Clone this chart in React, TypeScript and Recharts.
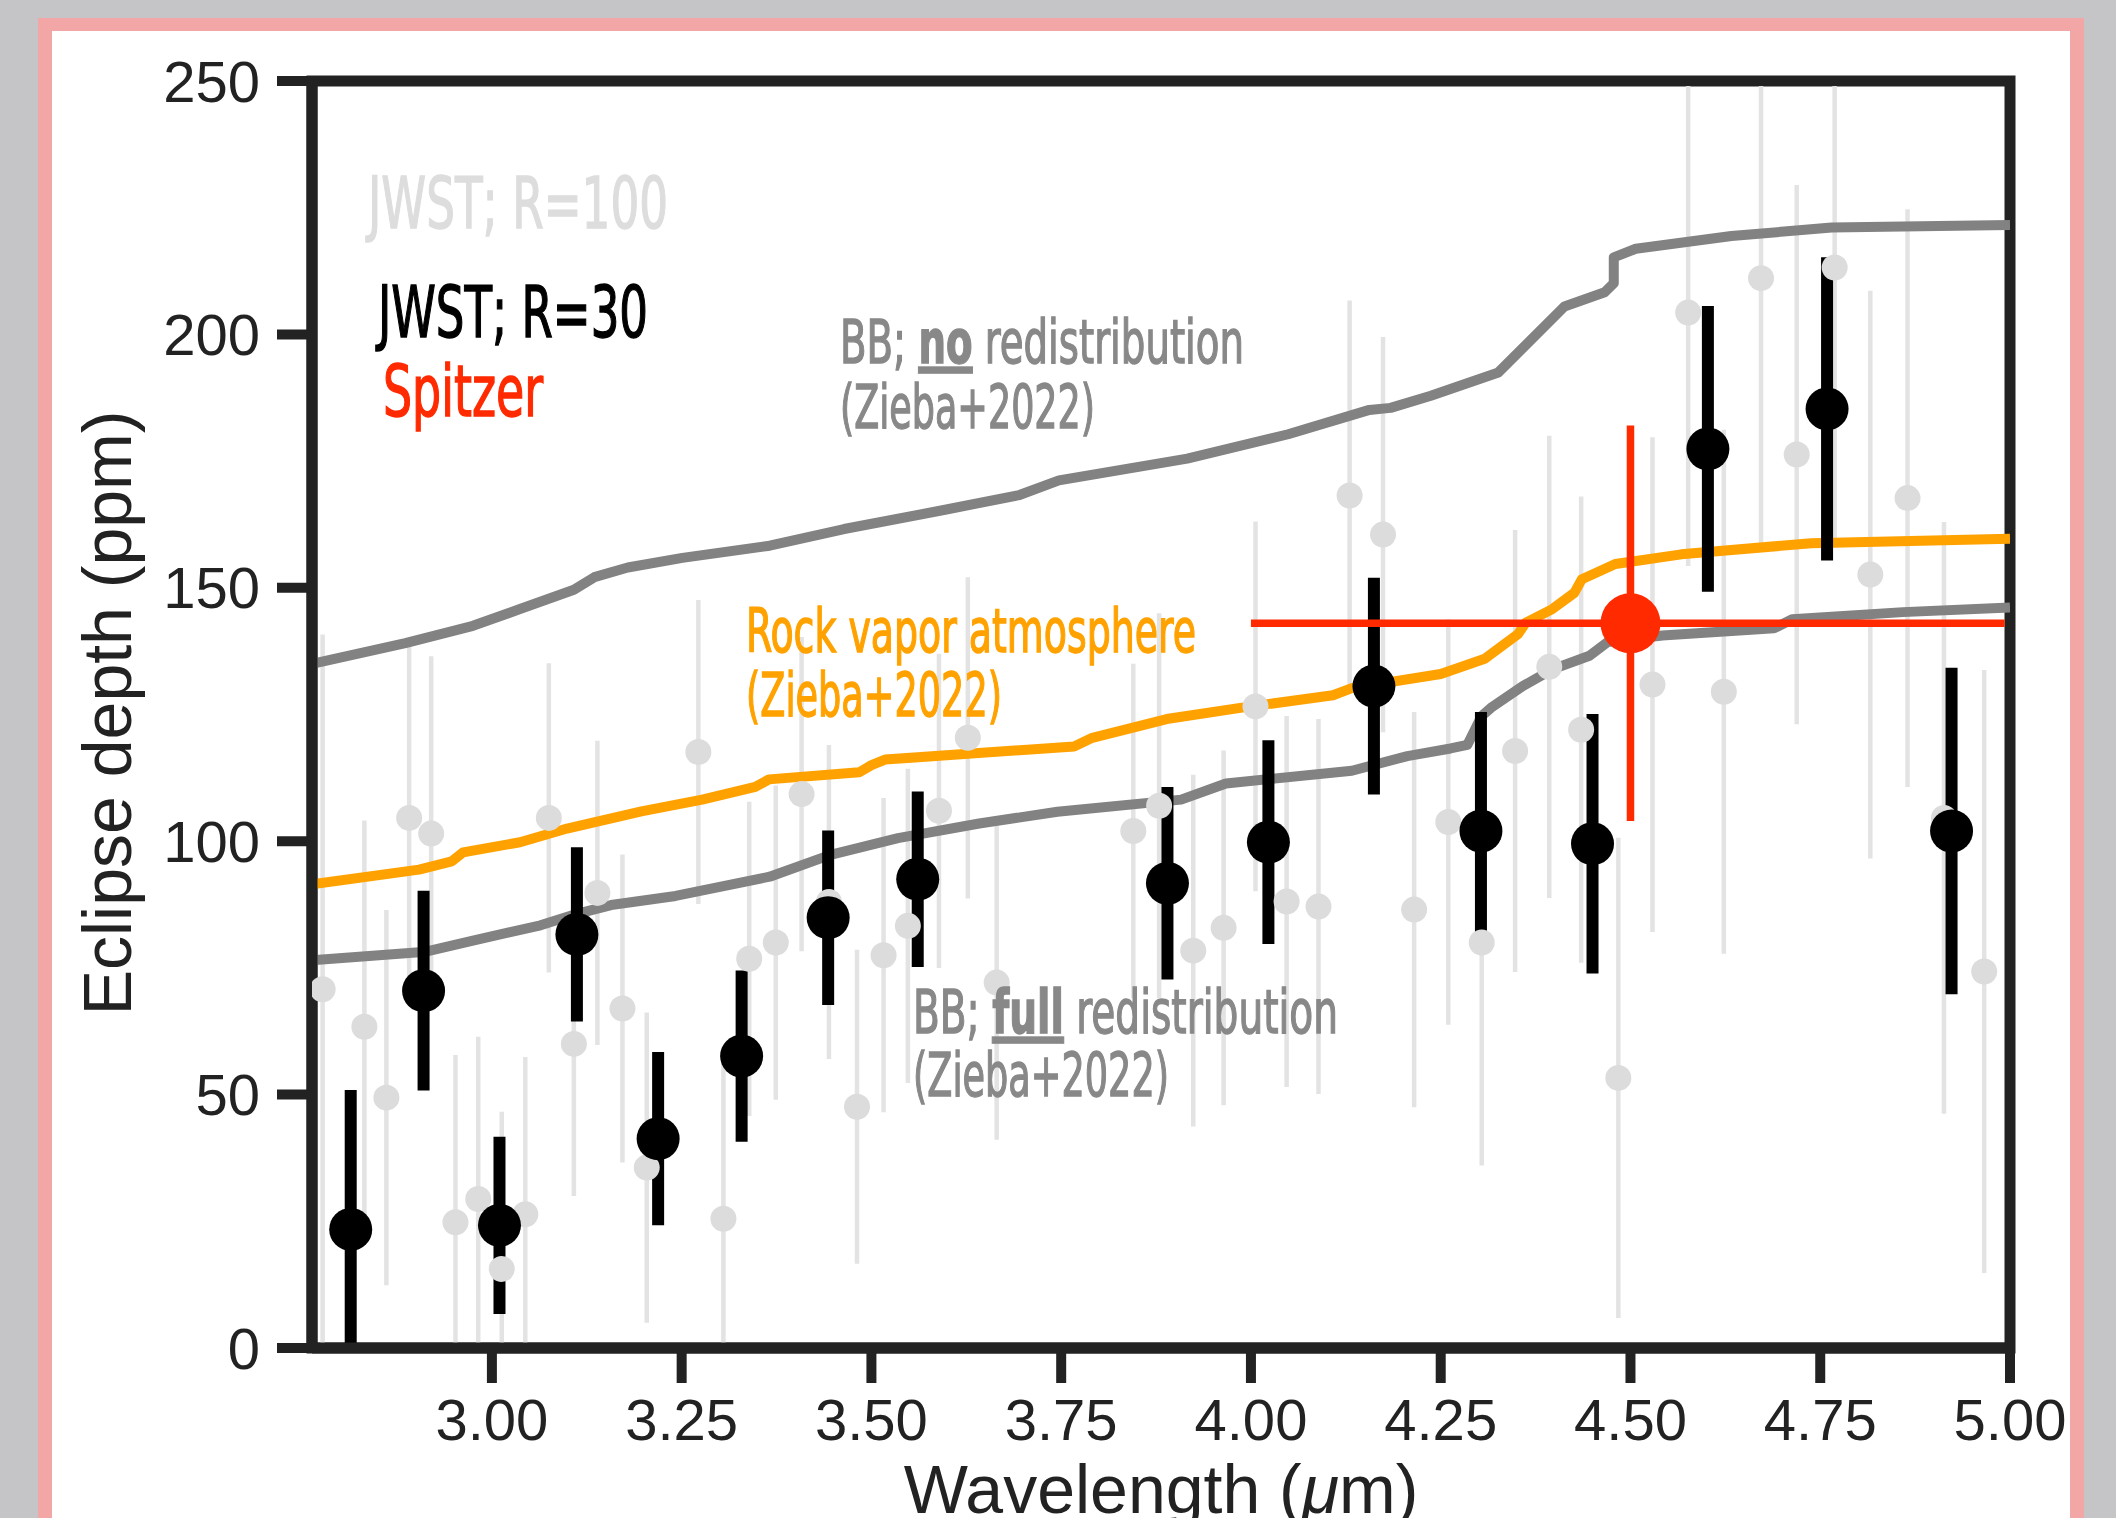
import React from "react";
import { ComposedChart, Line, Scatter, XAxis, YAxis, ErrorBar, ReferenceArea } from "recharts";

const X_MIN = 2.763;
const X_MAX = 5.0;
const Y_MIN = 0;
const Y_MAX = 250;
const X_TICKS = [3.0, 3.25, 3.5, 3.75, 4.0, 4.25, 4.5, 4.75, 5.0];
const Y_TICKS = [0, 50, 100, 150, 200, 250];

// JWST, R=30 binning (black)
const R30_WAVE = [2.814, 2.91, 3.01, 3.112, 3.219, 3.329, 3.443, 3.561, 3.89, 4.023, 4.162, 4.303, 4.45, 4.602, 4.759, 4.923];
const R30_DEPTH = [23.4, 70.5, 24.2, 81.6, 41.3, 57.6, 84.9, 92.5, 91.7, 99.8, 130.6, 102.0, 99.5, 177.4, 185.3, 102.0];
const R30_ERR = [27.5, 19.7, 17.5, 17.2, 17.1, 16.9, 17.2, 17.3, 19.0, 20.1, 21.4, 23.5, 25.6, 28.2, 29.9, 32.2];

// JWST, R=100 binning (light grey)
const R100_WAVE = [
  2.777, 2.832, 2.861, 2.891, 2.92, 2.952, 2.982, 3.013, 3.044, 3.075, 3.108, 3.139, 3.172, 3.204,
  3.272, 3.305, 3.339, 3.374, 3.408, 3.444, 3.481, 3.516, 3.548, 3.589, 3.627, 3.665,
  3.845, 3.879, 3.924, 3.964, 4.006, 4.047, 4.089, 4.13, 4.174, 4.215, 4.26, 4.304, 4.348, 4.393,
  4.435, 4.484, 4.529, 4.576, 4.623, 4.672, 4.719, 4.769, 4.816, 4.865, 4.913, 4.966,
];
const R100_DEPTH = [
  70.8, 63.4, 49.4, 104.6, 101.5, 24.8, 29.4, 15.6, 26.4, 104.6, 60.0, 89.8, 67.0, 35.6,
  117.6, 25.5, 76.8, 80.0, 109.3, 88.0, 47.6, 77.5, 83.3, 106.0, 120.4, 72.1,
  102.0, 107.0, 78.4, 82.9, 126.6, 88.1, 87.1, 168.2, 160.5, 86.5, 103.8, 80.0, 117.8, 134.4,
  122.0, 53.3, 130.9, 204.3, 129.5, 211.1, 176.3, 213.2, 152.6, 167.7, 104.6, 74.3,
];
const R100_ERR = [
  70, 40.7, 37, 34, 35, 33, 32, 31, 31, 30.5, 30, 30, 30.4, 30.6,
  30, 31.5, 31, 31, 31, 31, 31, 31, 31, 31, 31.7, 31,
  33, 38, 34.7, 35, 36.5, 36.6, 37, 38.5, 39, 39, 40, 44, 43.6, 45.6,
  46, 47.4, 48.8, 50, 51.7, 53, 53.2, 55, 56, 57, 58.4, 59.5,
];

// Spitzer 4.5 um eclipse
const SPITZER_WAVE = [4.5];
const SPITZER_DEPTH = [143];
const SPITZER_ERR = [39];
const SPITZER_XERR = [0.5];

// Models (Zieba+2022)
const BB_NO_WAVE = [2.763, 2.886, 2.975, 3.037, 3.108, 3.135, 3.179, 3.251, 3.366, 3.464, 3.597, 3.695, 3.747, 3.916, 4.049, 4.156, 4.184, 4.237, 4.326, 4.413, 4.466, 4.478, 4.478, 4.507, 4.633, 4.765, 5.0];
const BB_NO_DEPTH = [135.0, 139.1, 142.5, 145.8, 149.6, 152.1, 154.0, 155.9, 158.3, 161.6, 165.4, 168.3, 171.2, 175.5, 180.3, 185.1, 185.5, 187.9, 192.5, 205.5, 208.3, 210.1, 215.2, 216.9, 219.4, 221.1, 221.6];

const ROCK_WAVE = [2.763, 2.904, 2.947, 2.962, 3.037, 3.099, 3.197, 3.277, 3.347, 3.365, 3.484, 3.5, 3.518, 3.767, 3.791, 3.889, 3.986, 4.108, 4.133, 4.25, 4.308, 4.352, 4.362, 4.397, 4.426, 4.436, 4.48, 4.567, 4.738, 5.0];
const ROCK_DEPTH = [91.5, 94.4, 96.0, 97.8, 99.8, 102.5, 105.9, 108.2, 110.7, 112.2, 113.6, 115.0, 116.1, 118.7, 120.4, 124.1, 126.3, 128.8, 130.2, 133.0, 136.0, 140.9, 143.1, 145.8, 149.0, 151.7, 154.7, 156.6, 158.8, 159.7];

const BB_FULL_WAVE = [2.763, 2.913, 2.975, 3.064, 3.108, 3.157, 3.242, 3.366, 3.446, 3.535, 3.642, 3.745, 3.908, 3.967, 4.133, 4.206, 4.263, 4.285, 4.304, 4.316, 4.358, 4.397, 4.446, 4.47, 4.542, 4.689, 4.713, 4.859, 5.0];
const BB_FULL_DEPTH = [76.5, 78.2, 80.4, 83.4, 85.5, 87.4, 89.2, 93.0, 97.3, 100.6, 103.5, 105.8, 108.2, 111.4, 113.9, 116.8, 118.3, 119.0, 124.7, 126.3, 130.6, 133.9, 136.6, 139.3, 140.6, 142.0, 143.8, 145.2, 146.1];

// error bars stop at the inner edge of the frame, like the original figure
const Y_EDGE = 1;
const X_EDGE = 0.007;
const points = (xs: number[], ys: number[], errs?: number[], xerrs?: number[]) =>
  xs.map((x, i) => {
    const y = ys[i];
    const e = errs ? errs[i] : 0;
    const xe = xerrs ? xerrs[i] : 0;
    return {
      x,
      y,
      err: [Math.min(e, y - Y_MIN), Math.min(e, Y_MAX - Y_EDGE - y)],
      xerr: [Math.min(xe, x - X_MIN - X_EDGE), Math.min(xe, X_MAX - X_EDGE - x)],
    };
  });

const r30Data = points(R30_WAVE, R30_DEPTH, R30_ERR);
const r100Data = points(R100_WAVE, R100_DEPTH, R100_ERR);
const spitzerData = points(SPITZER_WAVE, SPITZER_DEPTH, SPITZER_ERR, SPITZER_XERR);
const bbNoData = points(BB_NO_WAVE, BB_NO_DEPTH);
const rockData = points(ROCK_WAVE, ROCK_DEPTH);
const bbFullData = points(BB_FULL_WAVE, BB_FULL_DEPTH);

const dot = (r: number, fill: string) => (props: any) =>
  <circle cx={props.cx} cy={props.cy} r={r} fill={fill} />;

const AXIS = "#222222";
const SANS = "'Liberation Sans', Arial, Helvetica, sans-serif";
const NARROW = "'Liberation Sans Narrow', 'DejaVu Sans Condensed', 'Roboto Condensed', sans-serif";
const GREY_TXT = "#888888";
const ORANGE = "#ffa200";
const RED = "#ff2a00";

function Note({ x, y, size, color, len, children }: any) {
  return (
    <text x={x} y={y} fontSize={size} fill={color} stroke={color} strokeWidth={1.4}
      textLength={len} lengthAdjust="spacingAndGlyphs">
      {children}
    </text>
  );
}

export default function App() {
  return (
    <div style={{ position: "absolute", left: 0, top: 0, width: 2116, height: 1518, background: "#c5c4c7", overflow: "hidden" }}>
      {/* pink frame + white panel */}
      <div style={{ position: "absolute", left: 38, top: 18, width: 2046, height: 1600, background: "#f2a6a5" }} />
      <div style={{ position: "absolute", left: 52, top: 31, width: 2018, height: 1600, background: "#ffffff" }} />

      <div style={{ position: "absolute", left: 0, top: 0 }}>
        <ComposedChart width={2116} height={1518} margin={{ top: 81, right: 106, bottom: 0, left: 112 }}>
          <XAxis
            type="number"
            dataKey="x"
            domain={[X_MIN, X_MAX]}
            ticks={X_TICKS}
            interval={0}
            allowDataOverflow
            height={170}
            tickFormatter={(v: number) => v.toFixed(2)}
            tickSize={35}
            tickMargin={16}
            axisLine={{ stroke: AXIS, strokeWidth: 11 }}
            tickLine={{ stroke: AXIS, strokeWidth: 10 }}
            tick={{ fill: AXIS, fontSize: 58, fontFamily: SANS }}
          />
          <YAxis
            type="number"
            dataKey="y"
            domain={[Y_MIN, Y_MAX]}
            ticks={Y_TICKS}
            interval={0}
            allowDataOverflow
            width={200}
            tickSize={35}
            tickMargin={17}
            axisLine={{ stroke: AXIS, strokeWidth: 11 }}
            tickLine={{ stroke: AXIS, strokeWidth: 10 }}
            tick={{ fill: AXIS, fontSize: 58, fontFamily: SANS }}
          />

          <Scatter data={r100Data} shape={dot(13, "#dcdcdc")} isAnimationActive={false}>
            <ErrorBar dataKey="err" direction="y" width={0} stroke="#e3e3e3" strokeWidth={4.5} isAnimationActive={false} />
          </Scatter>

          <Line data={bbNoData} dataKey="y" type="linear" dot={false} activeDot={false} stroke="#828282" strokeWidth={10} strokeLinejoin="round" isAnimationActive={false} />
          <Line data={rockData} dataKey="y" type="linear" dot={false} activeDot={false} stroke={ORANGE} strokeWidth={10} strokeLinejoin="round" isAnimationActive={false} />
          <Line data={bbFullData} dataKey="y" type="linear" dot={false} activeDot={false} stroke="#828282" strokeWidth={10} strokeLinejoin="round" isAnimationActive={false} />

          <Scatter data={r30Data} shape={dot(21.5, "#000000")} isAnimationActive={false}>
            <ErrorBar dataKey="err" direction="y" width={0} stroke="#000000" strokeWidth={12} isAnimationActive={false} />
          </Scatter>

          <Scatter data={spitzerData} shape={dot(30, RED)} isAnimationActive={false}>
            <ErrorBar dataKey="err" direction="y" width={0} stroke={RED} strokeWidth={7.5} isAnimationActive={false} />
            <ErrorBar dataKey="xerr" direction="x" width={0} stroke={RED} strokeWidth={7.5} isAnimationActive={false} />
          </Scatter>

          <ReferenceArea x1={X_MIN} x2={X_MAX} y1={Y_MIN} y2={Y_MAX} fill="none" stroke={AXIS} strokeWidth={11} ifOverflow="visible" />
        </ComposedChart>
      </div>

      {/* axis titles and annotations */}
      <svg width={2116} height={1518} style={{ position: "absolute", left: 0, top: 0, pointerEvents: "none" }}>
        <text x={131} y={713} transform="rotate(-90 131 713)" textAnchor="middle" fontFamily={SANS} fontSize={68} fill={AXIS}>
          Eclipse depth (ppm)
        </text>
        <text x={1161} y={1513} textAnchor="middle" fontFamily={SANS} fontSize={68} fill={AXIS}>
          Wavelength (<tspan fontStyle="italic">μ</tspan>m)
        </text>

        <g fontFamily={NARROW}>
          <Note x={368} y={228} size={72} color="#dddddd" len={300}>JWST; R=100</Note>
          <Note x={378} y={337} size={72} color="#000000" len={270}>JWST; R=30</Note>
          <Note x={383} y={416} size={72} color={RED} len={160}>Spitzer</Note>

          <Note x={840} y={363} size={61} color={GREY_TXT} len={404}>
            BB; <tspan fontWeight="bold" textDecoration="underline">no</tspan> redistribution
          </Note>
          <Note x={840} y={428} size={61} color={GREY_TXT} len={255}>(Zieba+2022)</Note>

          <Note x={746} y={652} size={61} color={ORANGE} len={450}>Rock vapor atmosphere</Note>
          <Note x={746} y={716} size={61} color={ORANGE} len={256}>(Zieba+2022)</Note>

          <Note x={913} y={1033} size={61} color={GREY_TXT} len={425}>
            BB; <tspan fontWeight="bold" textDecoration="underline">full</tspan> redistribution
          </Note>
          <Note x={913} y={1096} size={61} color={GREY_TXT} len={256}>(Zieba+2022)</Note>
        </g>
      </svg>
    </div>
  );
}
